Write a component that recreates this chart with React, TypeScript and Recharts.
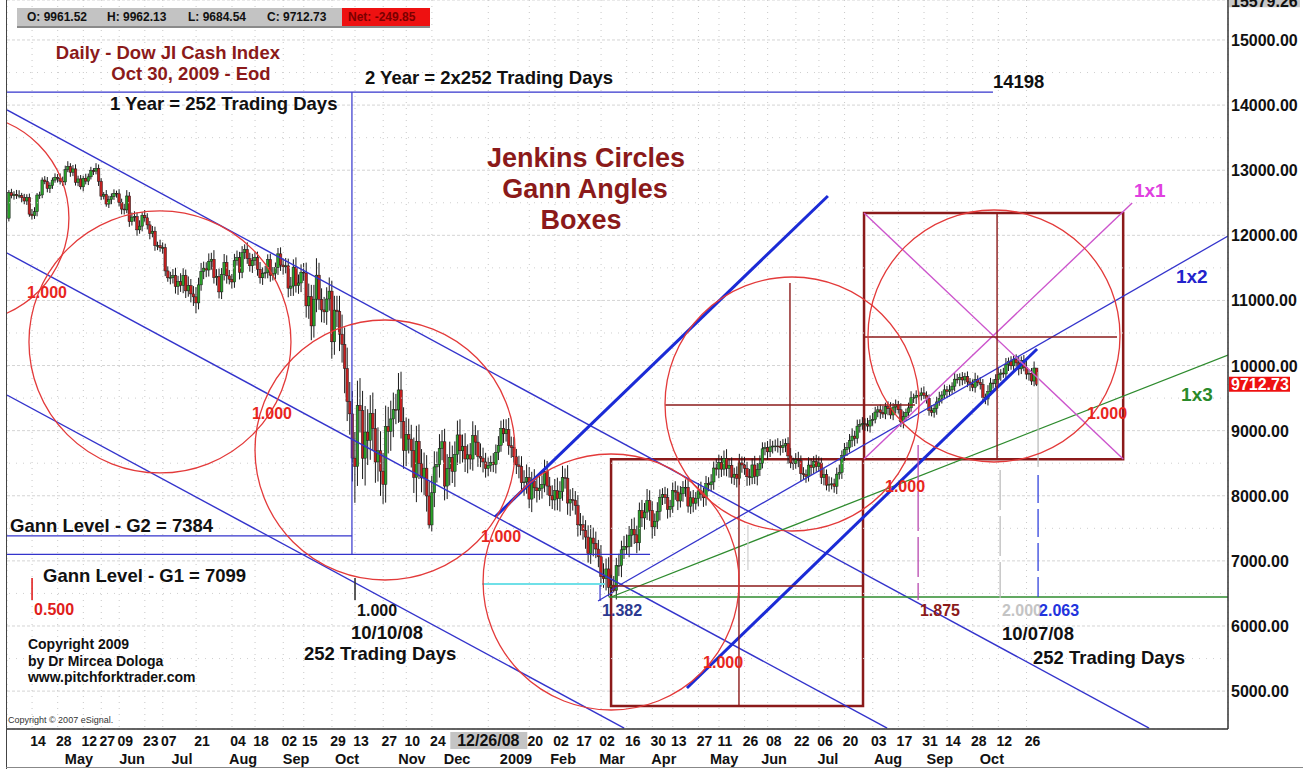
import React from 'react';
import {
  ComposedChart, Bar, XAxis, YAxis, CartesianGrid,
  ReferenceLine, ReferenceDot, ReferenceArea,
} from 'recharts';

const FONT = '"Liberation Sans", Arial, Helvetica, sans-serif';

// ---------- DATA: Dow Jones cash index, daily, 1 Apr 2008 .. 30 Oct 2009 ----------
const firstOpen = 12263;
const closes = [
  // Apr 2008
  12654, 12608, 12627, 12609, 12612, 12577, 12527, 12581, 12325, 12302, 12362, 12619, 12620, 12849, 12825, 12720, 12763, 12848, 12891, 12871, 12831, 12820,
  // May 2008
  13010, 13058, 12969, 13020, 12814, 12866, 12745, 12876, 12832, 12898, 12992, 12986, 13028, 12828, 12601, 12625, 12480, 12548, 12594, 12646, 12638,
  // Jun 2008
  12503, 12403, 12390, 12604, 12210, 12280, 12289, 12084, 12141, 12307, 12269, 12160, 12029, 12063, 11842, 11842, 11808, 11811, 11453, 11347, 11350,
  // Jul 2008
  11382, 11215, 11288, 11231, 11384, 11147, 11229, 11100, 11055, 10962, 11239, 11446, 11496, 11467, 11602, 11632, 11349, 11370, 11131, 11397, 11583, 11378,
  // Aug 2008
  11326, 11284, 11615, 11656, 11432, 11734, 11782, 11642, 11532, 11615, 11659, 11479, 11348, 11417, 11430, 11628, 11387, 11413, 11502, 11715, 11543,
  // Sep 2008
  11516, 11532, 11188, 11220, 11511, 11231, 11268, 11434, 11421, 10917, 11059, 10609, 11019, 11388, 11016, 10854, 10825, 11022, 11143, 10365, 10851,
  // Oct 2008
  10831, 10482, 10325, 9955, 9447, 9258, 8579, 8451, 9387, 9311, 8577, 8979, 8852, 9265, 9033, 8519, 8691, 8378, 8175, 9065, 8990, 9180, 9325,
  // Nov 2008
  9319, 9625, 9139, 8695, 8943, 8870, 8694, 8282, 8835, 8497, 8273, 8424, 7997, 7552, 8046, 8443, 8479, 8726, 8829,
  // Dec 2008
  8149, 8419, 8591, 8376, 8635, 8934, 8691, 8761, 8565, 8629, 8564, 8924, 8824, 8604, 8579, 8519, 8419, 8468, 8515, 8483, 8668, 8776,
  // Jan 2009
  9034, 8952, 9015, 8769, 8742, 8599, 8474, 8448, 8200, 8212, 8281, 7949, 8228, 8122, 8077, 8116, 8174, 8375, 8149, 8001,
  // Feb 2009
  7936, 8078, 7957, 8063, 8280, 8270, 7888, 7939, 7932, 7850, 7553, 7555, 7466, 7366, 7114, 7351, 7270, 7182, 7063,
  // Mar 2009
  6763, 6726, 6876, 6594, 6627, 6547, 6926, 6930, 7170, 7224, 7216, 7395, 7486, 7400, 7278, 7776, 7660, 7749, 7924, 7776, 7522, 7609,
  // Apr 2009
  7761, 7978, 8017, 7975, 7789, 7837, 8083, 8057, 7920, 8029, 8125, 8131, 7841, 7969, 7886, 7957, 8076, 8025, 7969, 8185, 8168,
  // May 2009
  8212, 8426, 8410, 8512, 8409, 8575, 8419, 8469, 8285, 8331, 8268, 8504, 8474, 8422, 8292, 8277, 8473, 8300, 8403, 8500,
  // Jun 2009
  8721, 8740, 8675, 8750, 8764, 8764, 8763, 8739, 8770, 8799, 8612, 8504, 8497, 8555, 8539, 8339, 8323, 8299, 8472, 8438, 8529, 8447,
  // Jul 2009
  8504, 8280, 8324, 8163, 8178, 8183, 8146, 8332, 8359, 8616, 8711, 8743, 8848, 8916, 8882, 9069, 9093, 9108, 9096, 9070, 9154, 9172,
  // Aug 2009
  9286, 9320, 9280, 9256, 9370, 9337, 9241, 9362, 9398, 9321, 9135, 9217, 9279, 9350, 9505, 9509, 9539, 9543, 9580, 9544, 9496,
  // Sep 2009
  9310, 9280, 9344, 9441, 9497, 9547, 9627, 9605, 9626, 9683, 9791, 9783, 9820, 9778, 9829, 9748, 9707, 9665, 9789, 9742, 9712,
  // Oct 2009
  9509, 9487, 9599, 9731, 9725, 9786, 9865, 9885, 9871, 10016, 10063, 9996, 10092, 10041, 9949, 10081, 9972, 9868, 9882, 9762, 9962, 9712.73,
];

// points of the upper shadow above the body
const wickUp = [
  40, 60, 50, 70, 80, 40, 60, 50, 60, 80, 70, 30, 50, 40, 60, 70, 50, 40, 60, 50, 80, 70,
  60, 80, 50, 60, 70, 50, 60, 40, 70, 50, 60, 40, 80, 60, 50, 40, 70, 60, 50, 60, 40,
  70, 60, 80, 90, 60, 70, 80, 60, 90, 50, 80, 70, 60, 80, 70, 60, 90, 80, 60, 70, 90,
  100, 120, 90, 130, 110, 90, 140, 100, 120, 150, 110, 130, 100, 90, 120, 100, 140, 110, 120, 100, 130, 110,
  90, 80, 100, 110, 90, 100, 80, 110, 90, 100, 80, 90, 110, 90, 100, 80, 90, 100, 80, 90, 100,
  100, 120, 110, 140, 120, 150, 130, 120, 140, 160, 200, 180, 220, 260, 190, 170, 200, 180, 210, 160, 220,
  220, 240, 300, 260, 320, 300, 350, 400, 380, 420, 300, 400, 350, 280, 320, 300, 360, 300, 280, 320, 300, 280, 260,
  240, 260, 280, 220, 260, 240, 220, 200, 240, 260, 220, 240, 200, 220, 260, 240, 200, 220, 180,
  200, 220, 240, 180, 200, 220, 240, 180, 200, 160, 180, 220, 160, 180, 200, 160, 140, 120, 100, 140, 120, 140,
  120, 140, 160, 180, 140, 160, 120, 140, 160, 180, 200, 160, 140, 180, 160, 200, 140, 180, 160, 140,
  160, 180, 200, 160, 180, 140, 200, 160, 180, 140, 160, 180, 140, 160, 180, 200, 160, 180, 140,
  180, 200, 160, 180, 160, 140, 120, 180, 140, 160, 180, 140, 160, 180, 140, 120, 160, 140, 180, 160, 140, 120,
  140, 120, 100, 120, 140, 100, 120, 140, 100, 120, 100, 120, 140, 100, 120, 100, 120, 140, 100, 120, 100,
  120, 100, 140, 120, 100, 120, 140, 100, 120, 100, 120, 140, 100, 120, 100, 120, 100, 140, 100, 120,
  100, 80, 100, 120, 80, 100, 120, 80, 100, 80, 100, 120, 80, 100, 120, 80, 100, 80, 120, 100, 80, 100,
  100, 80, 100, 80, 120, 100, 80, 100, 120, 80, 100, 80, 100, 120, 80, 100, 80, 100, 80, 100, 80, 100,
  80, 60, 80, 100, 60, 80, 100, 60, 80, 60, 100, 80, 60, 80, 100, 60, 80, 60, 80, 100, 60,
  60, 80, 60, 80, 100, 60, 80, 60, 80, 60, 100, 80, 60, 80, 60, 80, 60, 80, 100, 60, 80,
  80, 60, 100, 80, 60, 80, 100, 60, 80, 100, 60, 80, 60, 80, 100, 60, 80, 100, 60, 80, 100, 1,
];

// points of the lower shadow below the body
const wickDown = [
  50, 40, 60, 50, 40, 70, 50, 60, 40, 60, 50, 70, 60, 50, 40, 60, 70, 50, 40, 60, 50, 60,
  50, 40, 70, 60, 50, 60, 40, 70, 50, 60, 40, 60, 50, 70, 60, 50, 40, 60, 70, 50, 60,
  60, 80, 70, 50, 80, 60, 70, 90, 60, 80, 60, 70, 90, 60, 80, 70, 60, 90, 80, 60, 100,
  90, 110, 130, 100, 120, 110, 90, 130, 140, 160, 100, 90, 120, 110, 100, 130, 90, 120, 100, 110, 90, 120,
  80, 100, 90, 80, 110, 90, 100, 80, 90, 110, 80, 100, 90, 110, 80, 90, 100, 80, 90, 110, 90,
  120, 100, 140, 120, 150, 110, 130, 140, 120, 180, 200, 220, 180, 200, 160, 190, 170, 200, 180, 260, 200,
  240, 260, 280, 380, 300, 320, 360, 560, 300, 340, 320, 420, 380, 300, 340, 320, 300, 380, 300, 280, 340, 300, 280,
  220, 200, 260, 280, 240, 220, 260, 240, 380, 240, 220, 260, 240, 60, 100, 220, 240, 200, 180,
  220, 200, 260, 180, 240, 160, 200, 180, 200, 220, 160, 180, 200, 160, 140, 160, 140, 120, 100, 120, 140, 120,
  100, 140, 120, 140, 160, 120, 140, 180, 160, 200, 180, 140, 200, 160, 180, 140, 160, 120, 140, 160,
  140, 160, 180, 200, 140, 160, 180, 200, 160, 140, 180, 160, 140, 180, 140, 160, 200, 140, 160,
  160, 140, 180, 140, 125, 30, 140, 160, 180, 140, 120, 160, 180, 140, 160, 120, 140, 180, 120, 160, 180, 140,
  120, 140, 120, 100, 140, 120, 100, 120, 140, 100, 120, 140, 100, 120, 140, 100, 120, 100, 140, 120, 100,
  100, 120, 100, 140, 120, 100, 120, 140, 100, 120, 140, 100, 120, 100, 140, 120, 100, 120, 140, 100,
  80, 100, 120, 80, 100, 80, 100, 120, 80, 100, 120, 80, 100, 80, 100, 120, 80, 100, 80, 120, 100, 80,
  80, 100, 120, 80, 100, 80, 100, 120, 80, 100, 80, 100, 80, 100, 120, 80, 100, 80, 100, 80, 100, 80,
  60, 80, 100, 60, 80, 100, 60, 80, 100, 60, 80, 100, 60, 80, 60, 80, 100, 60, 80, 60, 80,
  80, 60, 80, 100, 60, 80, 60, 100, 80, 60, 80, 60, 100, 80, 60, 80, 100, 60, 80, 60, 80,
  60, 80, 100, 60, 80, 60, 80, 100, 60, 80, 100, 60, 80, 60, 100, 80, 60, 80, 100, 60, 80, 28,
];

// x axis: trading-day index of labelled dates
const dayTicks = [9, 19, 29, 36, 43, 53, 60, 73, 87, 96, 107, 115, 126, 135, 146, 155, 165, 187,
  203, 213, 222, 231, 241, 251, 259, 269, 277, 287, 296, 307, 316, 326, 337, 347, 357, 366, 376, 386, 397];
const dayLabels = ['14', '28', '12', '27', '09', '23', '07', '21', '04', '18', '02', '15', '29', '13', '27', '10', '24', '12/26/08',
  '20', '02', '17', '02', '16', '30', '13', '27', '11', '26', '08', '22', '06', '20', '03', '17', '31', '14', '28', '12', '26'];
const monthTicks = [27.3, 48, 67.5, 91.3, 112, 131.9, 157.2, 174.8, 197.8, 216.2, 235.3, 255.5, 279, 298.5, 319.5, 343, 363.2, 383.5];
const monthLabels = ['May', 'Jun', 'Jul', 'Aug', 'Sep', 'Oct', 'Nov', 'Dec', '2009', 'Feb', 'Mar', 'Apr', 'May', 'Jun', 'Jul', 'Aug', 'Sep', 'Oct'];

const yTicks = [5000, 6000, 7000, 8000, 9000, 10000, 11000, 12000, 13000, 14000, 15000];
const halfLevels = [5500, 6500, 7500, 8500, 9500, 10500, 11500, 12500, 13500, 14500];

const X_MIN = -0.78;
const X_MAX = 475.6;
const Y_MIN = 4418;
const Y_MAX = 15614;

const lastOHLC = { o: 9961.52, h: 9962.13, l: 9684.54, c: 9712.73, net: -249.85 };
const topPrice = 15579.26;

// candles table built from the arrays
const candles = closes.map((c, i) => {
  const o = i === 0 ? firstOpen : (i === closes.length - 1 ? lastOHLC.o : closes[i - 1]);
  const high = Math.max(o, c) + wickUp[i];
  const low = Math.min(o, c) - wickDown[i];
  return { i, open: o, close: c, high, low };
});

// ---------- ANNOTATIONS (trading-day index, price) ----------
type Seg = { a: [number, number]; b: [number, number]; color: string; w: number; dash?: string };
const BLUE = '#3434cc';
const THICK = '#1b2bd6';
const GREEN = '#2e8b2e';
const MAGENTA = '#cc55cc';
const BROWN = '#8b1a1a';

const segments: Seg[] = [
  // descending channel
  { a: [-0.78, 13925], b: [444.8, 4433], color: BLUE, w: 1.4 },
  { a: [-0.78, 11728], b: [342.6, 4433], color: BLUE, w: 1.4 },
  { a: [-0.78, 9547], b: [240.0, 4433], color: BLUE, w: 1.4 },
  // year boxes / gann levels
  { a: [-0.78, 14198], b: [383.9, 14198], color: BLUE, w: 1.2 },
  { a: [133.8, 14198], b: [133.8, 7099], color: BLUE, w: 1.2 },
  { a: [-0.78, 7384], b: [133.8, 7384], color: BLUE, w: 1.2 },
  { a: [-0.78, 7099], b: [250.1, 7099], color: BLUE, w: 1.2 },
  // fan from the March low
  { a: [234.9, 6553], b: [475.6, 11989], color: BLUE, w: 1.3 },
  { a: [229.8, 6384], b: [235.7, 6522], color: BLUE, w: 1.2 },
  { a: [230.6, 6630], b: [230.6, 6384], color: BLUE, w: 1.2 },
  { a: [234.9, 6445], b: [475.6, 10162], color: GREEN, w: 1.3 },
  { a: [234.0, 6445], b: [475.6, 6445], color: GREEN, w: 1.3 },
  { a: [184.6, 6645], b: [232.5, 6645], color: '#6fe0e8', w: 2 },
  // 1x1 thick lines
  { a: [189.6, 7674], b: [319.5, 12604], color: THICK, w: 3 },
  { a: [264.5, 5048], b: [401.1, 10254], color: THICK, w: 3 },
  // magenta diagonals in the upper box
  { a: [333.6, 8565], b: [438.2, 12496], color: MAGENTA, w: 1.4 },
  { a: [333.6, 12343], b: [434.7, 8565], color: MAGENTA, w: 1.4 },
  // box inner lines
  { a: [284.8, 4771], b: [284.8, 8560], color: BROWN, w: 1.4 },
  { a: [234.9, 6614], b: [333.2, 6614], color: BROWN, w: 1.4 },
  { a: [385.5, 8560], b: [385.5, 12343], color: BROWN, w: 1.4 },
  { a: [333.6, 10438], b: [432.3, 10438], color: BROWN, w: 1.4 },
  { a: [256.0, 9394], b: [353.5, 9394], color: BROWN, w: 1.4 },
  { a: [304.7, 11268], b: [304.7, 8560], color: BROWN, w: 1.4 },
  // time markers
  { a: [9.0, 6737], b: [9.0, 6399], color: '#e02020', w: 1.6 },
  { a: [135.0, 6737], b: [135.0, 6399], color: '#333333', w: 1.6 },
  { a: [354.7, 8780], b: [354.7, 6399], color: '#b84ab0', w: 1.3, dash: '40 6' },
  { a: [386.7, 8396], b: [386.7, 6430], color: '#bdbdbd', w: 1.3, dash: '40 6' },
  { a: [401.5, 8319], b: [401.5, 6445], color: '#3344dd', w: 1.3, dash: '28 6' },
  { a: [401.5, 9901], b: [401.5, 8442], color: '#bdbdbd', w: 1.3 },
  { a: [288.3, 7551], b: [288.3, 6860], color: '#cfcfcf', w: 1.2 },
];

const boxes = [
  { x1: 234.9, x2: 333.2, y1: 4771, y2: 8560 },
  { x1: 333.6, x2: 434.7, y1: 8560, y2: 12343 },
];

// Jenkins circles: centre (index, price), radius in px
const circles = [
  { i: -17.2, p: 12266, r: 104 },
  { i: 58.9, p: 10362, r: 131 },
  { i: 146.7, p: 8703, r: 130 },
  { i: 234.9, p: 6676, r: 128 },
  { i: 305.5, p: 9409, r: 127 },
  { i: 384.3, p: 10454, r: 126 },
];

type Note = { i: number; p: number; t: string; c?: string; s: number; a?: 'start' | 'middle' | 'end'; w?: string };
const RED = '#e8261e';
const notes: Note[] = [
  { i: 62.0, p: 14708, t: 'Daily - Dow JI Cash Index', c: BROWN, s: 18.5, a: 'middle' },
  { i: 71.0, p: 14385, t: 'Oct 30, 2009 - Eod', c: BROWN, s: 18.5, a: 'middle' },
  { i: 39.4, p: 13925, t: '1 Year = 252 Trading Days', s: 18.5 },
  { i: 138.9, p: 14324, t: '2 Year = 2x252 Trading Days', s: 18.5 },
  { i: 383.9, p: 14263, t: '14198', s: 18.5 },
  { i: 225.1, p: 13049, t: 'Jenkins Circles', c: BROWN, s: 27, a: 'middle' },
  { i: 224.7, p: 12573, t: 'Gann Angles', c: BROWN, s: 27, a: 'middle' },
  { i: 223.2, p: 12097, t: 'Boxes', c: BROWN, s: 27, a: 'middle' },
  { i: 438.9, p: 12589, t: '1x1', c: '#e040e0', s: 19 },
  { i: 455.3, p: 11268, t: '1x2', c: '#2323cc', s: 19 },
  { i: 457.3, p: 9455, t: '1x3', c: '#2a8a2a', s: 19 },
  { i: 14.8, p: 11037, t: '1.000', c: RED, s: 16, a: 'middle' },
  { i: 102.6, p: 9179, t: '1.000', c: RED, s: 16, a: 'middle' },
  { i: 192.0, p: 7290, t: '1.000', c: RED, s: 16, a: 'middle' },
  { i: 278.6, p: 5355, t: '1.000', c: RED, s: 16, a: 'middle' },
  { i: 349.6, p: 8058, t: '1.000', c: RED, s: 16, a: 'middle' },
  { i: 428.4, p: 9179, t: '1.000', c: RED, s: 16, a: 'middle' },
  { i: 0.4, p: 7444, t: 'Gann Level - G2 = 7384', s: 18.5 },
  { i: 13.3, p: 6676, t: 'Gann Level - G1 = 7099', s: 18.5 },
  { i: 9.8, p: 6169, t: '0.500', c: '#e0201a', s: 16 },
  { i: 135.8, p: 6154, t: '1.000', s: 16 },
  { i: 147.5, p: 5800, t: '10/10/08', s: 18.5, a: 'middle' },
  { i: 144.8, p: 5478, t: '252 Trading Days', s: 18.5, a: 'middle' },
  { i: 7.4, p: 5647, t: 'Copyright 2009', s: 14 },
  { i: 7.4, p: 5386, t: 'by Dr Mircea Dologa', s: 14 },
  { i: 7.4, p: 5140, t: 'www.pitchforktrader.com', s: 14 },
  { i: 239.2, p: 6154, t: '1.382', c: '#2b3990', s: 16, a: 'middle' },
  { i: 355.4, p: 6154, t: '1.875', c: BROWN, s: 16 },
  { i: 387.4, p: 6154, t: '2.000', c: '#c4c4c4', s: 16 },
  { i: 401.9, p: 6154, t: '2.063', c: '#2233dd', s: 16 },
  { i: 387.4, p: 5785, t: '10/07/08', s: 18.5 },
  { i: 399.5, p: 5416, t: '252 Trading Days', s: 18.5 },
  { i: -0.4, p: 4510, t: 'Copyright \u00a9 2007 eSignal.', c: '#333', s: 9, w: 'normal' },
];

// ---------- RENDERERS ----------
const Candle = (props: any) => {
  const { x, y, width, height, payload } = props;
  if (!payload || x == null || y == null) return null;
  const top = Math.min(y, y + height);
  const h = Math.abs(height);
  const range = payload.high - payload.low;
  const k = range > 0 ? h / range : 0;
  const cx = x + width / 2;
  const yO = top + (payload.high - payload.open) * k;
  const yC = top + (payload.high - payload.close) * k;
  const up = payload.close >= payload.open;
  const bTop = Math.min(yO, yC);
  const bH = Math.max(Math.abs(yC - yO), 0.8);
  return (
    <g>
      <line x1={cx} x2={cx} y1={top} y2={top + h} stroke="#1a1a1a" strokeWidth={1} />
      <rect x={cx - 1.3} y={bTop} width={2.6} height={bH} fill={up ? '#2aa12a' : '#c42020'} stroke="#1a1a1a" strokeWidth={0.5} />
    </g>
  );
};

const dayMap = new Map<number, string>(dayTicks.map((t, k) => [t, dayLabels[k]]));
const monthMap = new Map<number, string>(monthTicks.map((t, k) => [t, monthLabels[k]]));

const DayTick = (p: any) => {
  const label = dayMap.get(p.payload.value) ?? '';
  if (label === '12/26/08') {
    return (
      <g>
        <rect x={p.x - 38} y={p.y + 3} width={77} height={17} fill="#c4c4c4" />
        <text x={p.x} y={p.y + 17} textAnchor="middle" fontFamily={FONT} fontWeight="bold" fontSize={16} fill="#111">{label}</text>
      </g>
    );
  }
  return (
    <text x={p.x + 6} y={p.y + 17} textAnchor="middle" fontFamily={FONT} fontWeight="bold" fontSize={14} fill="#111">{label}</text>
  );
};

const MonthTick = (p: any) => (
  <text x={p.x} y={p.y + 15} textAnchor="middle" fontFamily={FONT} fontWeight="bold" fontSize={14.5} fill="#111">
    {monthMap.get(p.payload.value) ?? ''}
  </text>
);

const PriceTick = (p: any) => (
  <text x={p.x} y={p.y + 6} textAnchor="start" fontFamily={FONT} fontWeight="bold" fontSize={16} fill="#111">
    {Number(p.payload.value).toFixed(2)}
  </text>
);

export default function App() {
  return (
    <div style={{ position: 'absolute', left: 0, top: 0, width: 1313, height: 769, background: '#fff', overflow: 'hidden', fontFamily: FONT }}>
      <ComposedChart width={1313} height={769} data={candles} margin={{ top: 0, right: 0, bottom: 0, left: 7 }}>
        <CartesianGrid horizontal vertical={false} stroke="#d4d4d4" strokeDasharray="3 2" />
        <CartesianGrid horizontal={false} vertical stroke="#c8c8c8" strokeDasharray="1 5" />
        <XAxis xAxisId={0} dataKey="i" type="number" domain={[X_MIN, X_MAX]} allowDataOverflow ticks={dayTicks} interval={0}
          height={20} tickSize={0} tickMargin={0} tickLine={false} axisLine={{ stroke: '#333', strokeWidth: 1.5 }} tick={<DayTick />} />
        <XAxis xAxisId="m" dataKey="i" type="number" domain={[X_MIN, X_MAX]} allowDataOverflow ticks={monthTicks} interval={0}
          height={20} tickSize={0} tickMargin={0} tickLine={false} axisLine={false} tick={<MonthTick />} />
        <YAxis orientation="right" type="number" domain={[Y_MIN, Y_MAX]} allowDataOverflow ticks={yTicks} interval={0}
          width={85} tickSize={0} tickMargin={3} tickLine={false} axisLine={{ stroke: '#333', strokeWidth: 1.5 }} tick={<PriceTick />} />

        {halfLevels.map((lv) => (
          <ReferenceLine key={'h' + lv} y={lv} stroke="#cfcfcf" strokeDasharray="1 6" ifOverflow="hidden" />
        ))}

        <Bar dataKey={(d: any) => [d.low, d.high]} barSize={3} isAnimationActive={false} shape={<Candle />} />

        {circles.map((c, k) => (
          <ReferenceDot key={'c' + k} x={c.i} y={c.p} r={c.r} ifOverflow="hidden"
            shape={(p: any) => (
              <circle cx={p.cx} cy={p.cy} r={c.r} fill="none" stroke="#e33a3a" strokeWidth={1.3} clipPath={p.clipPath} />
            )} />
        ))}

        {boxes.map((b, k) => (
          <ReferenceArea key={'b' + k} x1={b.x1} x2={b.x2} y1={b.y1} y2={b.y2} fill="none" fillOpacity={0}
            stroke={BROWN} strokeWidth={2.5} ifOverflow="hidden" />
        ))}

        {segments.map((s, k) => (
          <ReferenceLine key={'s' + k} segment={[{ x: s.a[0], y: s.a[1] }, { x: s.b[0], y: s.b[1] }]}
            stroke={s.color} strokeWidth={s.w} strokeDasharray={s.dash} ifOverflow="hidden" />
        ))}

        {notes.map((n, k) => (
          <ReferenceDot key={'n' + k} x={n.i} y={n.p} r={0} ifOverflow="visible"
            shape={(p: any) => (
              <text x={p.cx} y={p.cy} textAnchor={n.a ?? 'start'} fill={n.c ?? '#111'} fontSize={n.s}
                fontWeight={n.w ?? 'bold'} fontFamily={FONT}>{n.t}</text>
            )} />
        ))}

        <ReferenceDot x={X_MAX} y={lastOHLC.c} r={0} ifOverflow="visible"
          shape={(p: any) => (
            <g>
              <rect x={p.cx + 1} y={p.cy - 7.5} width={61} height={15} fill="#ee1111" />
              <text x={p.cx + 3} y={p.cy + 6} fill="#fff" fontSize={16} fontWeight="bold" fontFamily={FONT}>{lastOHLC.c.toFixed(2)}</text>
            </g>
          )} />
        <ReferenceDot x={X_MAX} y={topPrice} r={0} ifOverflow="visible"
          shape={(p: any) => (
            <g>
              <rect x={p.cx + 1} y={p.cy - 11} width={71} height={16} fill="#c8c8c8" />
              <text x={p.cx + 3} y={p.cy + 4.5} fill="#111" fontSize={16} fontWeight="bold" fontFamily={FONT}>{topPrice.toFixed(2)}</text>
            </g>
          )} />
      </ComposedChart>

      {/* frame */}
      <div style={{ position: 'absolute', left: 6, top: 0, width: 1, height: 769, background: '#444' }} />
      <div style={{ position: 'absolute', left: 6, top: 767, width: 1297, height: 1, background: '#888' }} />

      {/* OHLC header */}
      <div style={{ position: 'absolute', left: 17, top: 8, width: 411, height: 18, background: '#c3c3c3', borderRight: '2px solid #8a8a8a', borderBottom: '2px solid #8a8a8a' }} />
      <div style={{ position: 'absolute', left: 342, top: 8, width: 88, height: 18, background: '#ee1111' }} />
      {[
        { x: 27, t: `O: ${lastOHLC.o.toFixed(2)}`, c: '#111' },
        { x: 107, t: `H: ${lastOHLC.h.toFixed(2)}`, c: '#111' },
        { x: 188, t: `L: ${lastOHLC.l.toFixed(2)}`, c: '#111' },
        { x: 267, t: `C: ${lastOHLC.c.toFixed(2)}`, c: '#111' },
        { x: 348, t: `Net: ${lastOHLC.net.toFixed(2)}`, c: '#7a0000' },
      ].map((h) => (
        <div key={h.t} style={{ position: 'absolute', left: h.x, top: 9, fontSize: 12, fontWeight: 'bold', color: h.c, lineHeight: '16px', whiteSpace: 'nowrap' }}>{h.t}</div>
      ))}
    </div>
  );
}
